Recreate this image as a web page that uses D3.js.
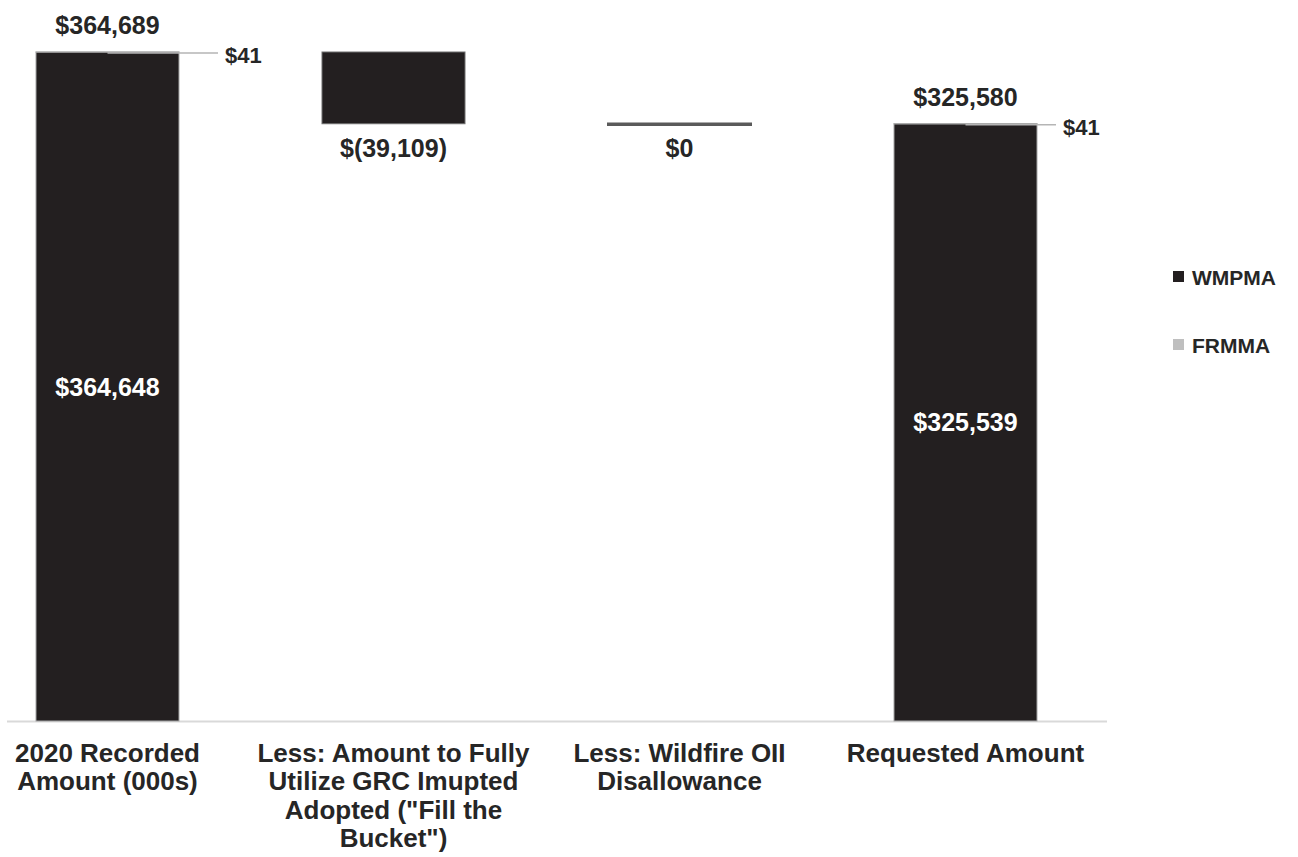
<!DOCTYPE html>
<html>
<head>
<meta charset="utf-8">
<script src="https://cdn.jsdelivr.net/npm/d3@7"></script>
<style>
  html, body { margin: 0; padding: 0; background: #fff; }
  svg { display: block; }
  text { font-family: "Liberation Sans", Arial, sans-serif; font-weight: bold; fill: #262626; }
</style>
</head>
<body>
<svg id="chart" width="1298" height="857"></svg>
<script>
// Waterfall of the 2020 recorded amount (000s)
const categories = [
  "2020 Recorded Amount (000s)",
  "Less: Amount to Fully Utilize GRC Imupted Adopted (\"Fill the Bucket\")",
  "Less: Wildfire OII Disallowance",
  "Requested Amount"
];
const stepKind = ["total", "delta", "delta", "total"];
const wmpmaValues = [364648, -39109, 0, 325539];
const frmmaValues = [41, 0, 0, 41];
const seriesNames = ["WMPMA", "FRMMA"];
const seriesColors = ["#231f20", "#bfbfbf"];

const W = 1298, H = 857;
const svg = d3.select("#chart");

// Running totals give the floating position of every step
let running = 0;
const bars = categories.map((c, i) => {
  const w = wmpmaValues[i], f = frmmaValues[i];
  let lo, hi;
  if (stepKind[i] === "total") {
    lo = 0; hi = w + f; running = hi;
  } else {
    const start = running;
    running = start + w + f;
    lo = Math.min(start, running); hi = Math.max(start, running);
  }
  return { idx: i, cat: c, kind: stepKind[i], w, f, lo, hi, level: running };
});

const yMax = d3.max(bars, d => d.hi);
const y = d3.scaleLinear().domain([0, yMax]).range([721, 52]);
const x = d3.scaleBand().domain(categories).range([-35.5, 1108.5])
  .paddingInner(0.5).paddingOuter(0.25);

const money = d3.format("$,");
const fmt = v => v < 0 ? "$(" + d3.format(",")(-v) + ")" : money(v);

// Category axis line
svg.append("line")
  .attr("x1", 7).attr("x2", 1107)
  .attr("y1", y(0) + 0.5).attr("y2", y(0) + 0.5)
  .attr("stroke", "#d9d9d9").attr("stroke-width", 2);

const g = svg.append("g");

bars.forEach(d => {
  const x0 = x(d.cat), bw = x.bandwidth(), cx = x0 + bw / 2;
  if (d.kind === "total") {
    // WMPMA segment
    g.append("rect")
      .attr("x", x0).attr("width", bw)
      .attr("y", y(d.w)).attr("height", y(0) - y(d.w))
      .attr("fill", seriesColors[0]).attr("stroke", "#a6a6a6").attr("stroke-width", 1);
    // FRMMA segment stacked on top
    g.append("rect")
      .attr("x", x0).attr("width", bw)
      .attr("y", y(d.w + d.f)).attr("height", y(d.w) - y(d.w + d.f))
      .attr("fill", seriesColors[1]).attr("stroke", "#a6a6a6").attr("stroke-width", 1);
    // inside label
    g.append("text")
      .attr("x", cx).attr("y", (y(d.w) + y(0)) / 2).attr("dy", "0.36em")
      .attr("text-anchor", "middle").style("font-size", "25px").style("fill", "#ffffff")
      .text(fmt(d.w));
    // total label above
    g.append("text")
      .attr("x", cx).attr("y", y(d.hi) - 18)
      .attr("text-anchor", "middle").style("font-size", "25px")
      .text(fmt(d.w + d.f));
    // FRMMA label with leader line
    const ly = y(d.w + d.f);
    const lx = x0 + bw + (d.idx === 0 ? 39 : 19);
    g.append("line")
      .attr("x1", cx).attr("x2", lx).attr("y1", ly + 1).attr("y2", ly + 1)
      .attr("stroke", "#b5b5b5").attr("stroke-width", 1.6);
    g.append("text")
      .attr("x", lx + 7).attr("y", ly + 3).attr("dy", "0.36em")
      .style("font-size", "22px")
      .text(fmt(d.f));
  } else {
    const h = y(d.lo) - y(d.hi);
    if (h > 0) {
      g.append("rect")
        .attr("x", x0).attr("width", bw)
        .attr("y", y(d.hi)).attr("height", h)
        .attr("fill", seriesColors[0]).attr("stroke", "#6e6e6e").attr("stroke-width", 1);
    } else {
      // a zero step shows only as its edge
      g.append("line")
        .attr("x1", x0 - 1).attr("x2", x0 + bw + 1)
        .attr("y1", y(d.level) + 0.5).attr("y2", y(d.level) + 0.5)
        .attr("stroke", "#5a5a5a").attr("stroke-width", 3.5);
    }
    g.append("text")
      .attr("x", cx).attr("y", y(d.lo) + 33)
      .attr("text-anchor", "middle").style("font-size", "25px")
      .text(fmt(d.w + d.f));
  }
});

// Category labels, wrapped to the band step
function wrapLabel(sel, width) {
  sel.each(function () {
    const t = d3.select(this);
    const words = t.text().split(/\s+/);
    t.text(null);
    let line = [];
    let ts = t.append("tspan").attr("x", t.attr("x")).attr("dy", 0);
    words.forEach(wd => {
      line.push(wd);
      ts.text(line.join(" "));
      if (ts.node().getComputedTextLength() > width && line.length > 1) {
        line.pop();
        ts.text(line.join(" "));
        line = [wd];
        ts = t.append("tspan").attr("x", t.attr("x")).attr("dy", "28.3px").text(wd);
      }
    });
  });
}

svg.append("g").selectAll("text").data(categories).join("text")
  .attr("x", d => x(d) + x.bandwidth() / 2)
  .attr("y", 762)
  .attr("text-anchor", "middle")
  .style("font-size", "26px")
  .text(d => d)
  .call(wrapLabel, 280);

// Legend
const legend = svg.append("g");
seriesNames.forEach((s, i) => {
  const ly = 277 + i * 68;
  legend.append("rect")
    .attr("x", 1173).attr("y", ly - 6).attr("width", 11).attr("height", 11)
    .attr("fill", seriesColors[i]);
  legend.append("text")
    .attr("x", 1192).attr("y", ly).attr("dy", "0.36em")
    .style("font-size", "21px")
    .text(s);
});
</script>
</body>
</html>
